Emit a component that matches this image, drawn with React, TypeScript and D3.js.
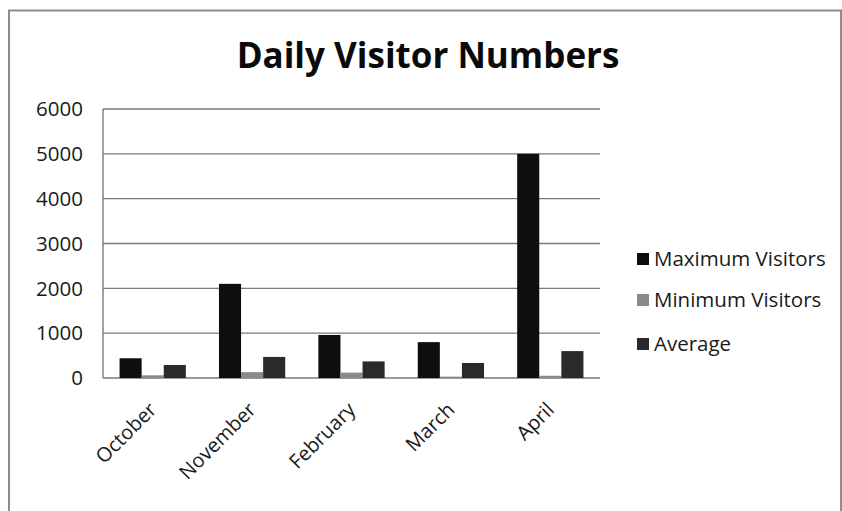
import React from "react";
import * as d3 from "d3";

const categories = ["October", "November", "February", "March", "April"];
const seriesNames = ["Maximum Visitors", "Minimum Visitors", "Average"];
const maxVisitors = [440, 2100, 960, 800, 5000];
const minVisitors = [60, 130, 120, 30, 50];
const averageVisitors = [290, 470, 370, 335, 600];
const yTicks = [0, 1000, 2000, 3000, 4000, 5000, 6000];
const colors = ["#0e0e0e", "#8a8a8a", "#2a2a2a"];

const W = 842;
const H = 511;
const left = 103;
const right = 600;
const top = 109;
const bottom = 378;
const FONT = "'Open Sans', 'DejaVu Sans', sans-serif";

export default function App() {
  const series = [maxVisitors, minVisitors, averageVisitors];
  const x = d3.scaleBand<string>().domain(categories).range([left, right]).paddingInner(0).paddingOuter(0);
  const y = d3.scaleLinear().domain([0, 6000]).range([bottom, top]);
  const bw = x.bandwidth();
  const barW = bw / 4.5;
  const inner = d3.scaleBand<number>().domain([0, 1, 2]).range([0, barW * 3]);

  return (
    <svg width={W} height={H} style={{ position: "absolute", left: 0, top: 0, background: "#fff" }}>
      <rect x={0} y={0} width={W} height={H} fill="#fff" />
      <rect x={9} y={10.5} width={832} height={520} fill="none" stroke="#8c8c8c" strokeWidth={2} />
      <text x={428} y={68} textAnchor="middle" fontFamily={FONT} fontWeight="bold" fontSize={35} fill="#0a0a0a">
        Daily Visitor Numbers
      </text>
      {yTicks.map((t) => (
        <g key={t}>
          <line x1={left} x2={right} y1={y(t)} y2={y(t)} stroke="#7a7a7a" strokeWidth={1.4} />
          <text x={83} y={y(t)} dy="0.35em" textAnchor="end" fontFamily={FONT} fontSize={20.5} fill="#1a1a1a">
            {t}
          </text>
        </g>
      ))}
      <line x1={left} x2={left} y1={top} y2={bottom} stroke="#7a7a7a" strokeWidth={1.4} />
      {categories.map((c, i) =>
        series.map((s, j) => {
          const bx = (x(c) as number) + bw / 2 - barW * 1.5 + (inner(j) as number);
          return (
            <rect key={c + j} x={bx} y={y(s[i])} width={barW} height={y(0) - y(s[i])} fill={colors[j]} />
          );
        })
      )}
      {categories.map((c) => {
        const cx = (x(c) as number) + bw / 2 + 5;
        return (
          <text
            key={c}
            transform={`translate(${cx},${411}) rotate(-45)`}
            textAnchor="end"
            fontFamily={FONT}
            fontSize={20}
            fill="#1a1a1a"
          >
            {c}
          </text>
        );
      })}
      {seriesNames.map((n, j) => {
        const ly = [259, 300, 344][j];
        return (
          <g key={n}>
            <rect x={637} y={ly - 6} width={12} height={12} fill={colors[j]} />
            <text x={654} y={ly} dy="0.35em" fontFamily={FONT} fontSize={20.5} fill="#1a1a1a">
              {n}
            </text>
          </g>
        );
      })}
    </svg>
  );
}
